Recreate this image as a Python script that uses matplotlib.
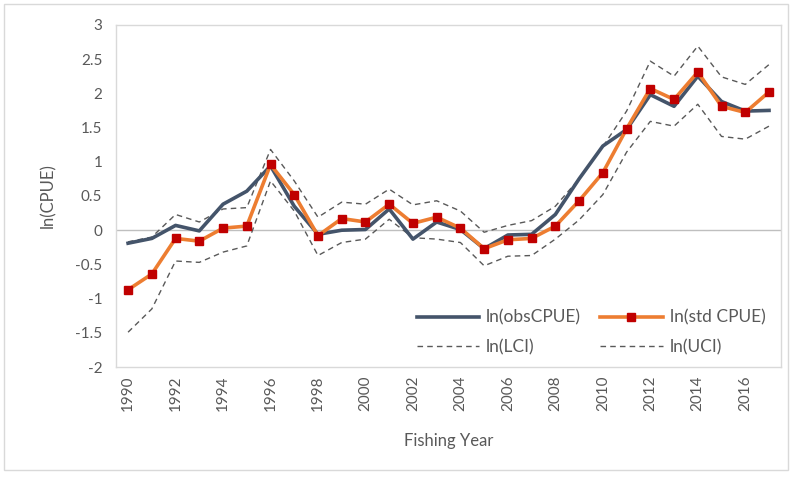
import matplotlib
matplotlib.use("Agg")
import matplotlib.pyplot as plt
from matplotlib.patches import Rectangle

plt.rcParams['font.family'] = ['Lato', 'DejaVu Sans']

# fishing years
years = list(range(1990, 2018))

# ln of observed CPUE
obs = [-0.19, -0.12, 0.07, -0.01, 0.38, 0.57, 0.94, 0.35, -0.06, 0.0,
       0.01, 0.31, -0.13, 0.12, 0.01, -0.27, -0.07, -0.06, 0.23, 0.75,
       1.23, 1.47, 1.98, 1.81, 2.25, 1.88, 1.74, 1.75]

# ln of standardised CPUE
std = [-0.87, -0.64, -0.12, -0.16, 0.03, 0.06, 0.96, 0.52, -0.08, 0.17,
       0.12, 0.38, 0.10, 0.19, 0.03, -0.27, -0.14, -0.12, 0.06, 0.43,
       0.84, 1.48, 2.07, 1.91, 2.31, 1.81, 1.72, 2.02]

# lower / upper confidence limits
lci = [-1.49, -1.15, -0.45, -0.47, -0.32, -0.23, 0.72, 0.28, -0.37, -0.18,
       -0.13, 0.16, -0.11, -0.13, -0.18, -0.52, -0.38, -0.37, -0.13, 0.15,
       0.52, 1.14, 1.59, 1.52, 1.84, 1.37, 1.33, 1.52]
uci = [-0.17, -0.10, 0.23, 0.12, 0.31, 0.33, 1.18, 0.72, 0.19, 0.41,
       0.38, 0.60, 0.37, 0.43, 0.28, -0.03, 0.07, 0.14, 0.35, 0.75,
       1.22, 1.74, 2.47, 2.25, 2.69, 2.24, 2.13, 2.42]

fig = plt.figure(figsize=(7.96, 4.78), dpi=100)
ax = fig.add_axes([0.146, 0.232, 0.835, 0.716])

# outer chart frame
fig.patches.append(Rectangle((0.005, 0.017), 0.985, 0.975, transform=fig.transFigure,
                             fill=False, edgecolor='#D9D9D9', linewidth=1))

ax.axhline(0, color='#BFBFBF', linewidth=1, zorder=1)

h_obs, = ax.plot(years, obs, color='#44546A', linewidth=2.6, label='ln(obsCPUE)', zorder=3)
h_std, = ax.plot(years, std, color='#ED7D31', linewidth=2.6, marker='s', markersize=6,
                 markerfacecolor='#C00000', markeredgecolor='#C00000', label='ln(std CPUE)', zorder=4)
h_lci, = ax.plot(years, lci, color='#595959', linewidth=1, linestyle=(0, (4, 3)), label='ln(LCI)', zorder=2)
h_uci, = ax.plot(years, uci, color='#595959', linewidth=1, linestyle=(0, (4, 3)), label='ln(UCI)', zorder=2)

ax.set_xlim(1989.5, 2017.5)
ax.set_ylim(-2, 3)
ax.set_yticks([-2, -1.5, -1, -0.5, 0, 0.5, 1, 1.5, 2, 2.5, 3])
ax.set_yticklabels(['-2', '-1.5', '-1', '-0.5', '0', '0.5', '1', '1.5', '2', '2.5', '3'])
ax.set_xticks(years[::2])
ax.set_xticklabels([str(y) for y in years[::2]], rotation=90)
ax.tick_params(axis='both', length=0, labelsize=11, labelcolor='#595959')
ax.tick_params(axis='y', pad=10)
ax.tick_params(axis='x', pad=6)

for s in ax.spines.values():
    s.set_color('#D9D9D9')
    s.set_linewidth(1)

ax.set_ylabel('ln(CPUE)', fontsize=12, color='#595959', labelpad=14)
ax.set_xlabel('Fishing Year', fontsize=12, color='#595959', labelpad=16)

# row order: obs / std on top, LCI / UCI below
ax.legend([h_obs, h_lci, h_std, h_uci], ['ln(obsCPUE)', 'ln(LCI)', 'ln(std CPUE)', 'ln(UCI)'],
          loc='lower right', ncol=2, frameon=False, fontsize=12.5, labelcolor='#595959',
          handlelength=3.6, columnspacing=1.1, handletextpad=0.4, labelspacing=0.75,
          borderaxespad=0.3, bbox_to_anchor=(0.995, 0.0))

fig.savefig('out.png', dpi=100)
